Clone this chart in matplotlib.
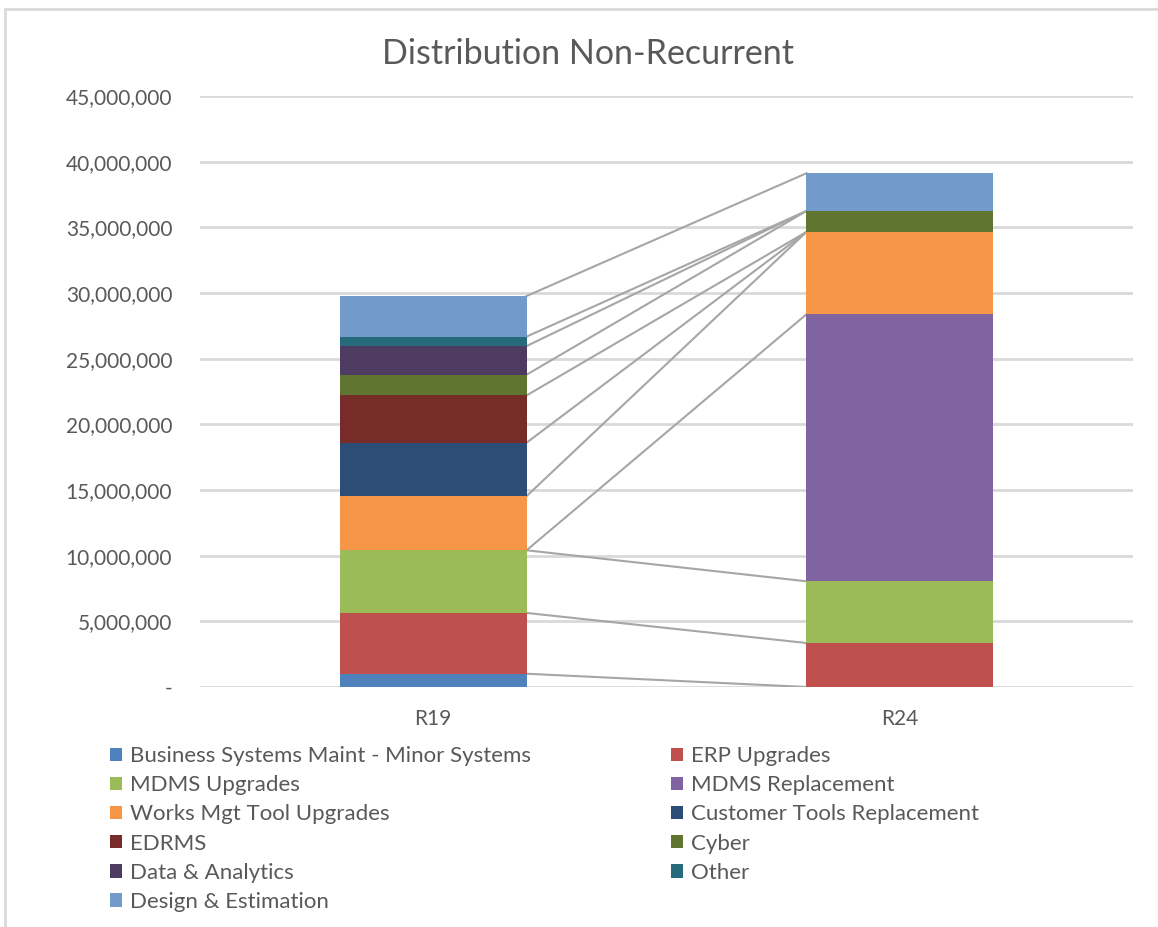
import numpy as np
import matplotlib
matplotlib.use('Agg')
import matplotlib.pyplot as plt
from matplotlib.patches import Rectangle

plt.rcParams['font.family'] = ['Lato', 'DejaVu Sans']

# 数据
categories = ['R19', 'R24']
series_names = ['Business Systems Maint - Minor Systems', 'ERP Upgrades', 'MDMS Upgrades',
                'MDMS Replacement', 'Works Mgt Tool Upgrades', 'Customer Tools Replacement',
                'EDRMS', 'Cyber', 'Data & Analytics', 'Other', 'Design & Estimation']
r19_values = [1010000, 4630000, 4770000, 0, 4120000, 4070000, 3600000, 1580000, 2180000, 720000, 3090000]
r24_values = [0, 3350000, 4700000, 20330000, 6270000, 0, 0, 1600000, 0, 0, 2870000]
colors = ['#4F81BD', '#C0504D', '#9BBB59', '#8064A2', '#F79646', '#2C4D75',
          '#772C2A', '#5F7530', '#4D3B62', '#276A7C', '#729ACA']
y_ticks = np.arange(0, 45000001, 5000000)

text_color = '#595959'
grid_color = '#D9D9D9'

fig = plt.figure(figsize=(11.58, 9.27), dpi=100)
ax = fig.add_axes([0.1727, 0.2589, 0.8057, 0.6375])

x = np.arange(len(categories))
width = 0.4
values = np.array([r19_values, r24_values], dtype=float).T  # 行: 系列, 列: 类别
bottoms = np.zeros(len(categories))
handles = []
for name, vals, c in zip(series_names, values, colors):
    h = ax.bar(x, vals, width, bottom=bottoms, color=c, label=name, zorder=3)
    handles.append(h)
    bottoms = bottoms + vals
    # 系列线: 连接每个系列在两根柱子上的顶部
    ax.plot([x[0] + width / 2, x[1] - width / 2], [bottoms[0], bottoms[1]],
            color='#A6A6A6', lw=1.5, zorder=2)

ax.set_xlim(-0.5, 1.5)
ax.set_ylim(0, 45000000)
ax.set_yticks(y_ticks)
ax.set_yticklabels(['-' if v == 0 else f'{v:,.0f}' for v in y_ticks])
ax.set_xticks(x)
ax.set_xticklabels(categories)
ax.tick_params(axis='both', length=0, labelsize=15, colors=text_color)
ax.tick_params(axis='y', pad=20)
ax.tick_params(axis='x', pad=16)
ax.grid(axis='y', color=grid_color, lw=2, zorder=0)
for s in ax.spines.values():
    s.set_visible(False)

fig.text(0.508, 0.942, 'Distribution Non-Recurrent', ha='center', va='center',
         fontsize=24.5, color=text_color)

# 图例: 按行排列两列
order = [0, 2, 4, 6, 8, 10, 1, 3, 5, 7, 9]
leg = fig.legend([handles[i] for i in order], [series_names[i] for i in order],
                 loc='upper left', bbox_to_anchor=(0.095, 0.195), ncol=2, frameon=False,
                 fontsize=16, handlelength=0.55, handleheight=0.55, handletextpad=0.35,
                 labelspacing=0.41, columnspacing=6.3, borderaxespad=0, borderpad=0)
for t in leg.get_texts():
    t.set_color(text_color)

# 图表外框
fig.patches.append(Rectangle((5 / 1158, -0.1), 1.2, 1.1 - 9 / 927, transform=fig.transFigure,
                             fill=False, edgecolor=grid_color, lw=2))

fig.savefig('out.png', dpi=100)
